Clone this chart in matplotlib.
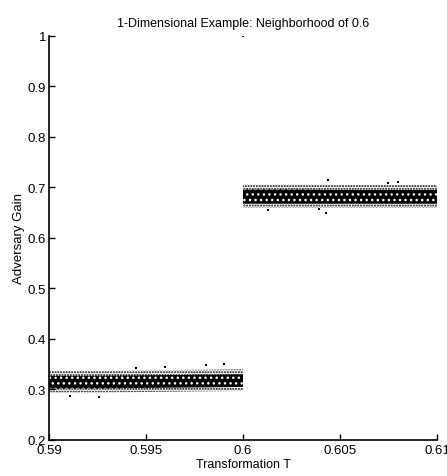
import matplotlib.pyplot as plt

plt.rcParams['font.family'] = ['Liberation Sans Narrow', 'Liberation Sans', 'DejaVu Sans']
plt.rcParams['hatch.linewidth'] = 1.0

# band below the jump (T < 0.6): envelope
low_t = [0.590, 0.5925, 0.595, 0.5975, 0.600]
low_outer_top = [0.337, 0.337, 0.338, 0.339, 0.340]
low_core_top = [0.327, 0.327, 0.328, 0.329, 0.330]
low_core_bot = [0.302, 0.302, 0.303, 0.304, 0.305]
low_outer_bot = [0.294, 0.294, 0.295, 0.296, 0.297]

# band above the jump (T > 0.6)
high_t = [0.600, 0.6025, 0.605, 0.6075, 0.610]
high_outer_top = [0.706, 0.706, 0.705, 0.705, 0.705]
high_core_top = [0.696, 0.696, 0.695, 0.695, 0.695]
high_core_bot = [0.668, 0.668, 0.668, 0.668, 0.668]
high_outer_bot = [0.660, 0.660, 0.660, 0.660, 0.660]

# stray points outside the bands
stray_t = [0.5911, 0.5926, 0.5945, 0.5960, 0.5981, 0.5990,
           0.6000, 0.6013, 0.6039, 0.6043, 0.6044, 0.6075, 0.6080]
stray_gain = [0.287, 0.285, 0.343, 0.345, 0.349, 0.350,
              1.000, 0.655, 0.657, 0.650, 0.715, 0.709, 0.711]

xticks = [0.59, 0.595, 0.6, 0.605, 0.61]
xticklabels = ['0.59', '0.595', '0.6', '0.605', '0.61']
yticks = [0.2, 0.3, 0.4, 0.5, 0.6, 0.7, 0.8, 0.9, 1.0]
yticklabels = ['0.2', '0.3', '0.4', '0.5', '0.6', '0.7', '0.8', '0.9', '1']

fig = plt.figure(figsize=(4.47, 4.77), dpi=100)
ax = fig.add_axes([0.1096, 0.0755, 0.868, 0.847])

for t, ot, ct, cb, ob in [(low_t, low_outer_top, low_core_top, low_core_bot, low_outer_bot),
                          (high_t, high_outer_top, high_core_top, high_core_bot, high_outer_bot)]:
    # sparse speckled fringe
    ax.fill_between(t, ob, ot, facecolor='white', edgecolor='black', hatch='......', linewidth=0)
    # dense core
    ax.fill_between(t, cb, ct, facecolor='black', edgecolor='white', hatch='...', linewidth=0)

ax.scatter(stray_t, stray_gain, s=3, marker='s', color='black', linewidths=0)

ax.set_xlim(0.59, 0.61)
ax.set_ylim(0.2, 1.0)
ax.set_xticks(xticks)
ax.set_xticklabels(xticklabels)
ax.set_yticks(yticks)
ax.set_yticklabels(yticklabels)
ax.tick_params(direction='in', length=4, width=1, labelsize=9.5, pad=2)
ax.tick_params(axis='x', pad=3)

for side in ['top', 'right']:
    ax.spines[side].set_visible(False)
for side in ['left', 'bottom']:
    ax.spines[side].set_linewidth(1.2)

ax.set_title('1-Dimensional Example: Neighborhood of 0.6', fontsize=9, pad=7)
ax.set_xlabel('Transformation T', fontsize=9, labelpad=1)
ax.set_ylabel('Adversary Gain', fontsize=9.5, labelpad=2)

plt.savefig('out.png', dpi=100)
